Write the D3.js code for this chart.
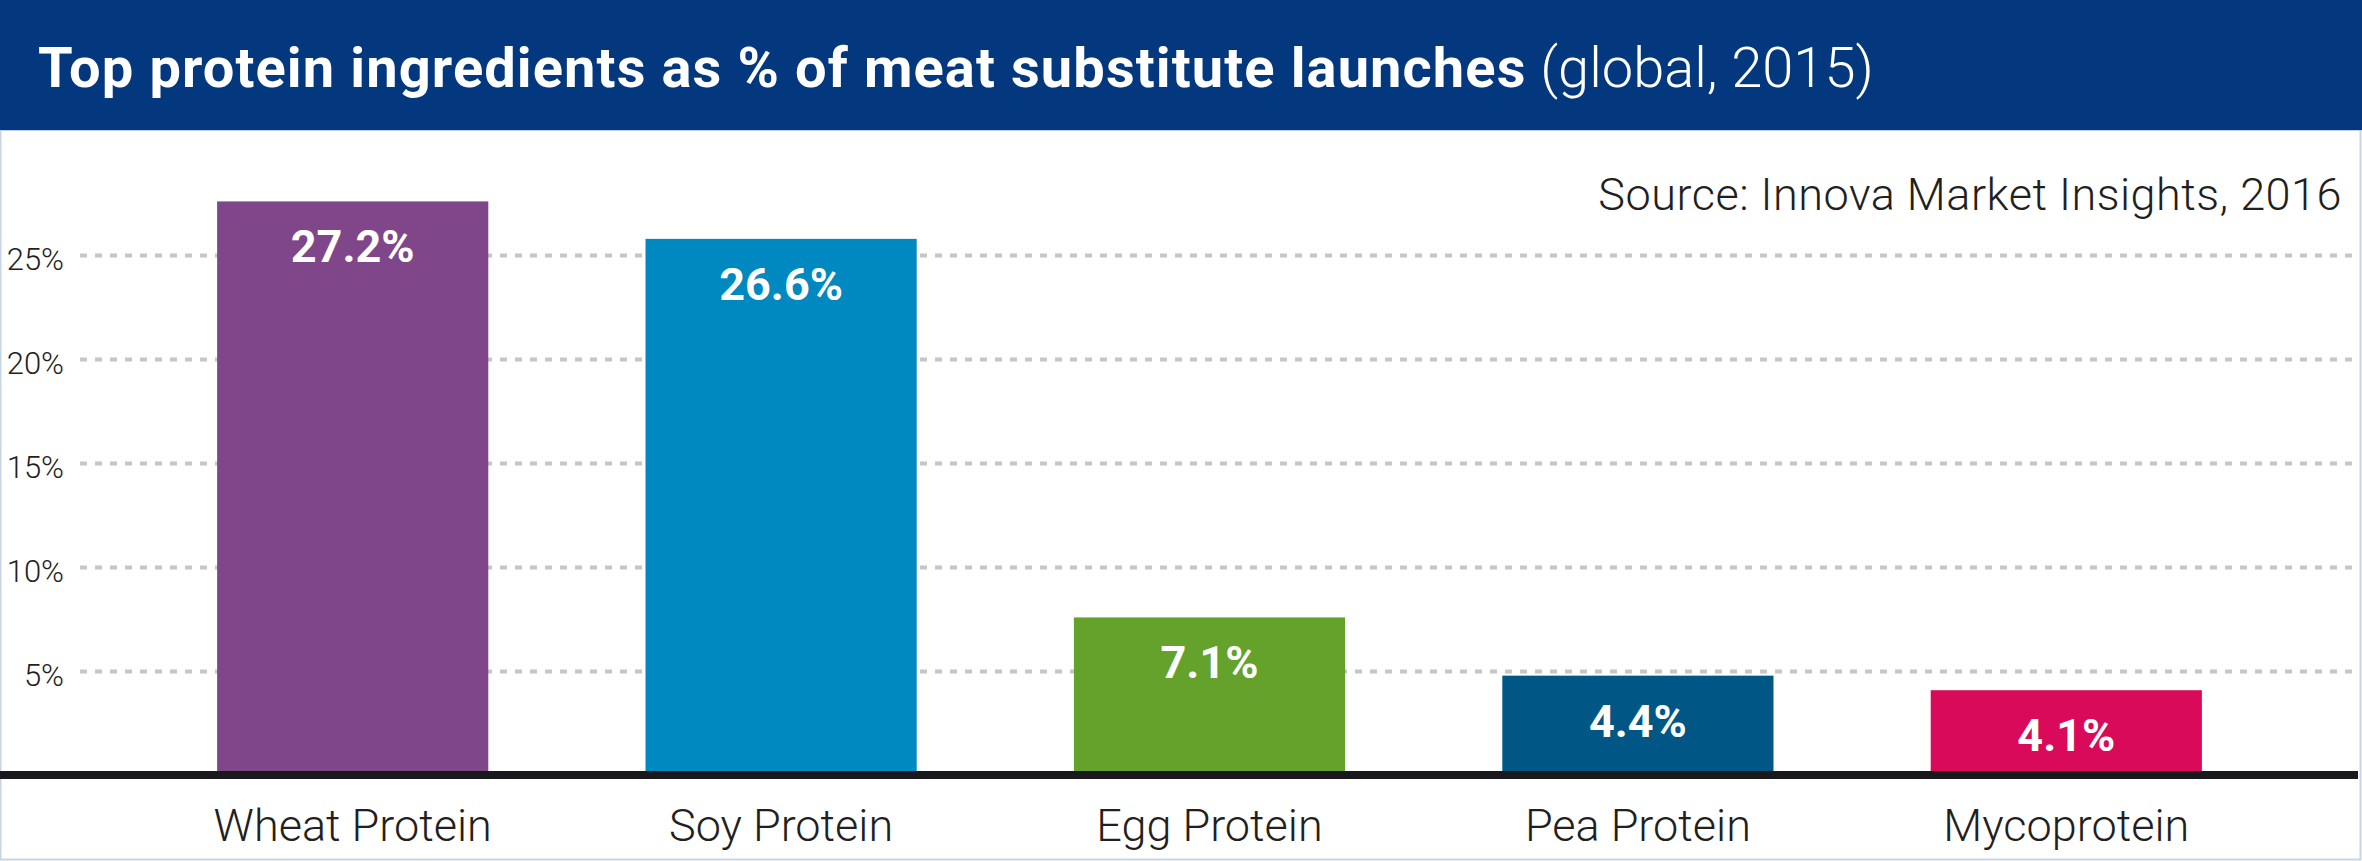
<!DOCTYPE html>
<html>
<head>
<meta charset="utf-8">
<script src="https://cdn.jsdelivr.net/npm/d3@7/dist/d3.min.js"></script>
<style>
  html, body { margin: 0; padding: 0; background: #fff; }
  svg { display: block; }
</style>
</head>
<body>
<div id="chart"></div>
<script>
// --- data ---
var categories = ['Wheat Protein', 'Soy Protein', 'Egg Protein', 'Pea Protein', 'Mycoprotein'];
var shares     = [27.2, 26.6, 7.1, 4.4, 4.1];      // printed values
var barLevels  = [27.6, 25.8, 7.6, 4.8, 4.1];      // heights as drawn in the original
var barColors  = ['#7f468a', '#0088c0', '#64a22c', '#005785', '#d90a59'];
var yTicks     = [5, 10, 15, 20, 25];

var titleBold  = 'Top protein ingredients as % of meat substitute launches';
var titleLight = ' (global, 2015)';
var source     = 'Source: Innova Market Insights, 2016';

var W = 2362, H = 861;
var headerH = 130;

var svg = d3.select('#chart').append('svg')
    .attr('width', W)
    .attr('height', H)
    .attr('viewBox', '0 0 ' + W + ' ' + H);

// frame
svg.append('rect')
    .attr('x', 0.5).attr('y', 0.5)
    .attr('width', W - 2).attr('height', H - 2)
    .attr('fill', '#fff')
    .attr('stroke', '#c9d5e4').attr('stroke-width', 2);

// header band
svg.append('rect')
    .attr('x', 0).attr('y', 0)
    .attr('width', W).attr('height', headerH)
    .attr('fill', '#03387e');
svg.append('line')
    .attr('x1', 0).attr('x2', W)
    .attr('y1', headerH + 0.5).attr('y2', headerH + 0.5)
    .attr('stroke', '#c3d0e2').attr('stroke-width', 1);

var title = svg.append('text')
    .attr('x', 38).attr('y', 87)
    .attr('fill', '#fff')
    .attr('font-family', 'Roboto, "Noto Sans", sans-serif')
    .attr('font-size', 56);
title.append('tspan').attr('font-weight', 700).attr('letter-spacing', 1.1).text(titleBold);
title.append('tspan').attr('font-weight', 300).text(titleLight);

svg.append('text')
    .attr('x', 2342).attr('y', 210)
    .attr('text-anchor', 'end')
    .attr('fill', '#231f20')
    .attr('font-family', 'Roboto, sans-serif')
    .attr('font-weight', 300)
    .attr('font-size', 45)
    .attr('letter-spacing', 0.5)
    .text(source);

// scales
var x = d3.scaleBand()
    .domain(categories)
    .range([138.5, 2280.5])
    .paddingInner(0.367)
    .paddingOuter(0.1835);

var y = d3.scaleLinear()
    .domain([0, 25])
    .range([775.5, 255.5]);

// tick labels via axis
var yAxis = d3.axisLeft(y)
    .tickValues(yTicks)
    .tickSize(0)
    .tickPadding(16)
    .tickFormat(function (d) { return d + '%'; });

var axisG = svg.append('g')
    .attr('transform', 'translate(80,0)')
    .call(yAxis);
axisG.select('.domain').remove();
axisG.selectAll('text')
    .attr('fill', '#231f20')
    .attr('font-family', 'Roboto, sans-serif')
    .attr('font-weight', 300)
    .attr('font-size', 31)
    .attr('dy', '0.45em');

// dotted gridlines
svg.append('g').selectAll('line')
    .data(yTicks)
    .join('line')
    .attr('x1', 80).attr('x2', 2360)
    .attr('y1', function (d) { return y(d); })
    .attr('y2', function (d) { return y(d); })
    .attr('stroke', '#c6c6c6')
    .attr('stroke-width', 4)
    .attr('stroke-dasharray', '7 8');

// bars
var rows = categories.map(function (c, i) {
    return { cat: c, value: shares[i], level: barLevels[i], color: barColors[i] };
});

svg.append('g').selectAll('rect')
    .data(rows)
    .join('rect')
    .attr('x', function (d) { return x(d.cat); })
    .attr('width', x.bandwidth())
    .attr('y', function (d) { return y(d.level); })
    .attr('height', function (d) { return y(0) - y(d.level); })
    .attr('fill', function (d) { return d.color; });

svg.append('g').selectAll('text')
    .data(rows)
    .join('text')
    .attr('x', function (d) { return x(d.cat) + x.bandwidth() / 2; })
    .attr('y', function (d) { return y(d.level) + 61; })
    .attr('text-anchor', 'middle')
    .attr('fill', '#fff')
    .attr('font-family', 'Roboto, sans-serif')
    .attr('font-weight', 700)
    .attr('font-size', 45)
    .text(function (d) { return d.value.toFixed(1) + '%'; });

// baseline
svg.append('rect')
    .attr('x', 0).attr('y', 771)
    .attr('width', 2358).attr('height', 8)
    .attr('fill', '#19181d');

// category labels
var xAxis = d3.axisBottom(x).tickSize(0).tickPadding(0);
var xG = svg.append('g')
    .attr('transform', 'translate(0,841)')
    .call(xAxis);
xG.select('.domain').remove();
xG.selectAll('text')
    .attr('dy', 0)
    .attr('fill', '#231f20')
    .attr('font-family', 'Roboto, sans-serif')
    .attr('font-weight', 300)
    .attr('font-size', 45);
</script>
</body>
</html>
